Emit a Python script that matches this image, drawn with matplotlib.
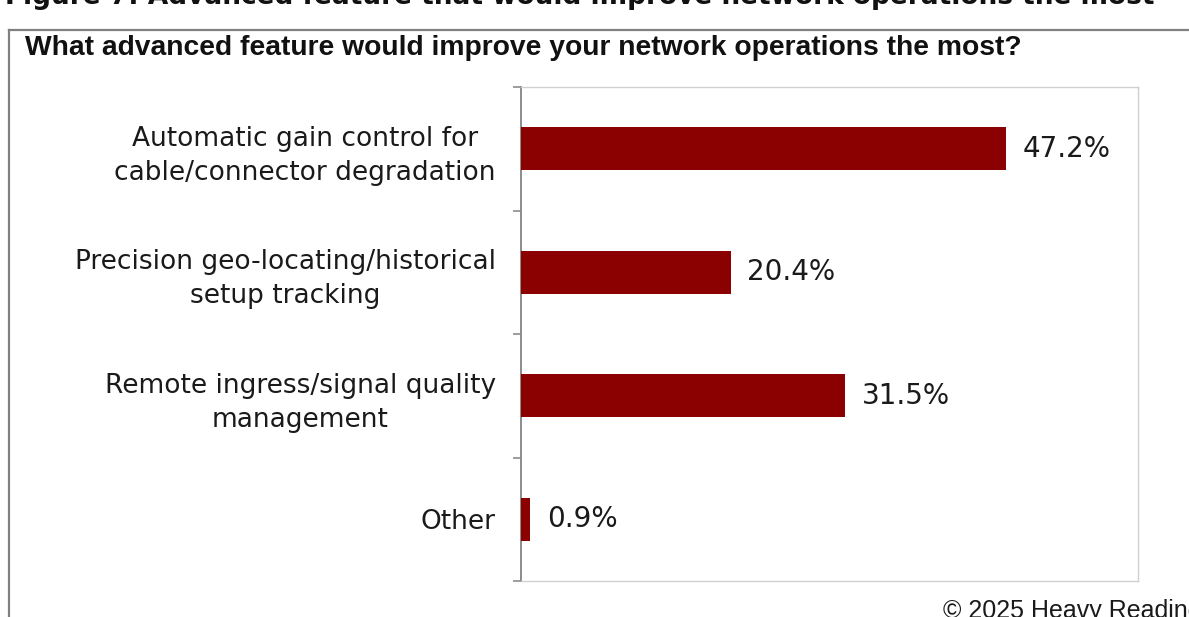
import matplotlib
matplotlib.use("Agg")
import matplotlib.pyplot as plt
from matplotlib.lines import Line2D
from matplotlib import font_manager

categories = [
    "Automatic gain control for\ncable/connector degradation",
    "Precision geo-locating/historical\nsetup tracking",
    "Remote ingress/signal quality\nmanagement",
    "Other",
]
values = [47.2, 20.4, 31.5, 0.9]
value_labels = ["47.2%", "20.4%", "31.5%", "0.9%"]

figure_title = "Figure 7: Advanced feature that would improve network operations the most"
question = "What advanced feature would improve your network operations the most?"
credit = "\u00a9 2025 Heavy Reading"

W, H = 1189, 617
fig = plt.figure(figsize=(W / 100, H / 100), dpi=100)
fig.patch.set_facecolor("white")

available = {f.name for f in font_manager.fontManager.ttflist}
narrow = "Liberation Sans Narrow" if "Liberation Sans Narrow" in available else "Liberation Sans"

ax = fig.add_axes([521 / W, 1 - 581 / H, (1138 - 521) / W, (581 - 87) / H])

bar_color = "#8b0000"
ypos = list(range(len(categories)))
ax.barh(ypos, values, height=0.35, color=bar_color, edgecolor="none", zorder=3)

ax.set_xlim(0, 60)
ax.set_ylim(len(categories) - 0.5, -0.5)
ax.set_xticks([])

ax.set_yticks(ypos)
ax.set_yticklabels(categories, fontsize=19, family="DejaVu Sans", color="#1a1a1a",
                   linespacing=1.4)
for lab in ax.get_yticklabels():
    lab.set_multialignment("center")
ax.tick_params(axis="y", which="major", length=0, pad=(521 - 496) * 72 / 100)

ax.set_yticks([i - 0.5 for i in range(len(categories) + 1)], minor=True)
ax.tick_params(axis="y", which="minor", length=6, width=1.2, color="#8c8c8c",
               direction="out")

for side in ("top", "right", "bottom"):
    ax.spines[side].set_color("#d0d0d0")
    ax.spines[side].set_linewidth(1.0)
ax.spines["left"].set_color("#8c8c8c")
ax.spines["left"].set_linewidth(1.4)

for y, v, t in zip(ypos, values, value_labels):
    ax.annotate(t, xy=(v, y), xytext=(12, 0), textcoords="offset points",
                va="center", ha="left", fontsize=20, family="DejaVu Sans",
                color="#1a1a1a")

# Frame around the panel
border = "#808080"
fig.add_artist(Line2D([9 / W, 1], [1 - 30 / H, 1 - 30 / H], transform=fig.transFigure,
                      color=border, linewidth=1.6))
fig.add_artist(Line2D([9 / W, 9 / W], [0, 1 - 30 / H], transform=fig.transFigure,
                      color=border, linewidth=1.6))

fig.text(5 / W, 1 - 4 / H, figure_title, fontsize=19, fontweight="bold",
         family="DejaVu Sans", va="baseline", ha="left", color="#111111")
fig.text(25 / W, 1 - 55 / H, question, fontsize=20.3, fontweight="bold",
         family=narrow, va="baseline", ha="left", color="#111111")
fig.text(943 / W, 1 - 618 / H, credit, fontsize=18, family=narrow,
         va="baseline", ha="left", color="#1a1a1a")

fig.savefig("out.png", dpi=100, facecolor="white")
